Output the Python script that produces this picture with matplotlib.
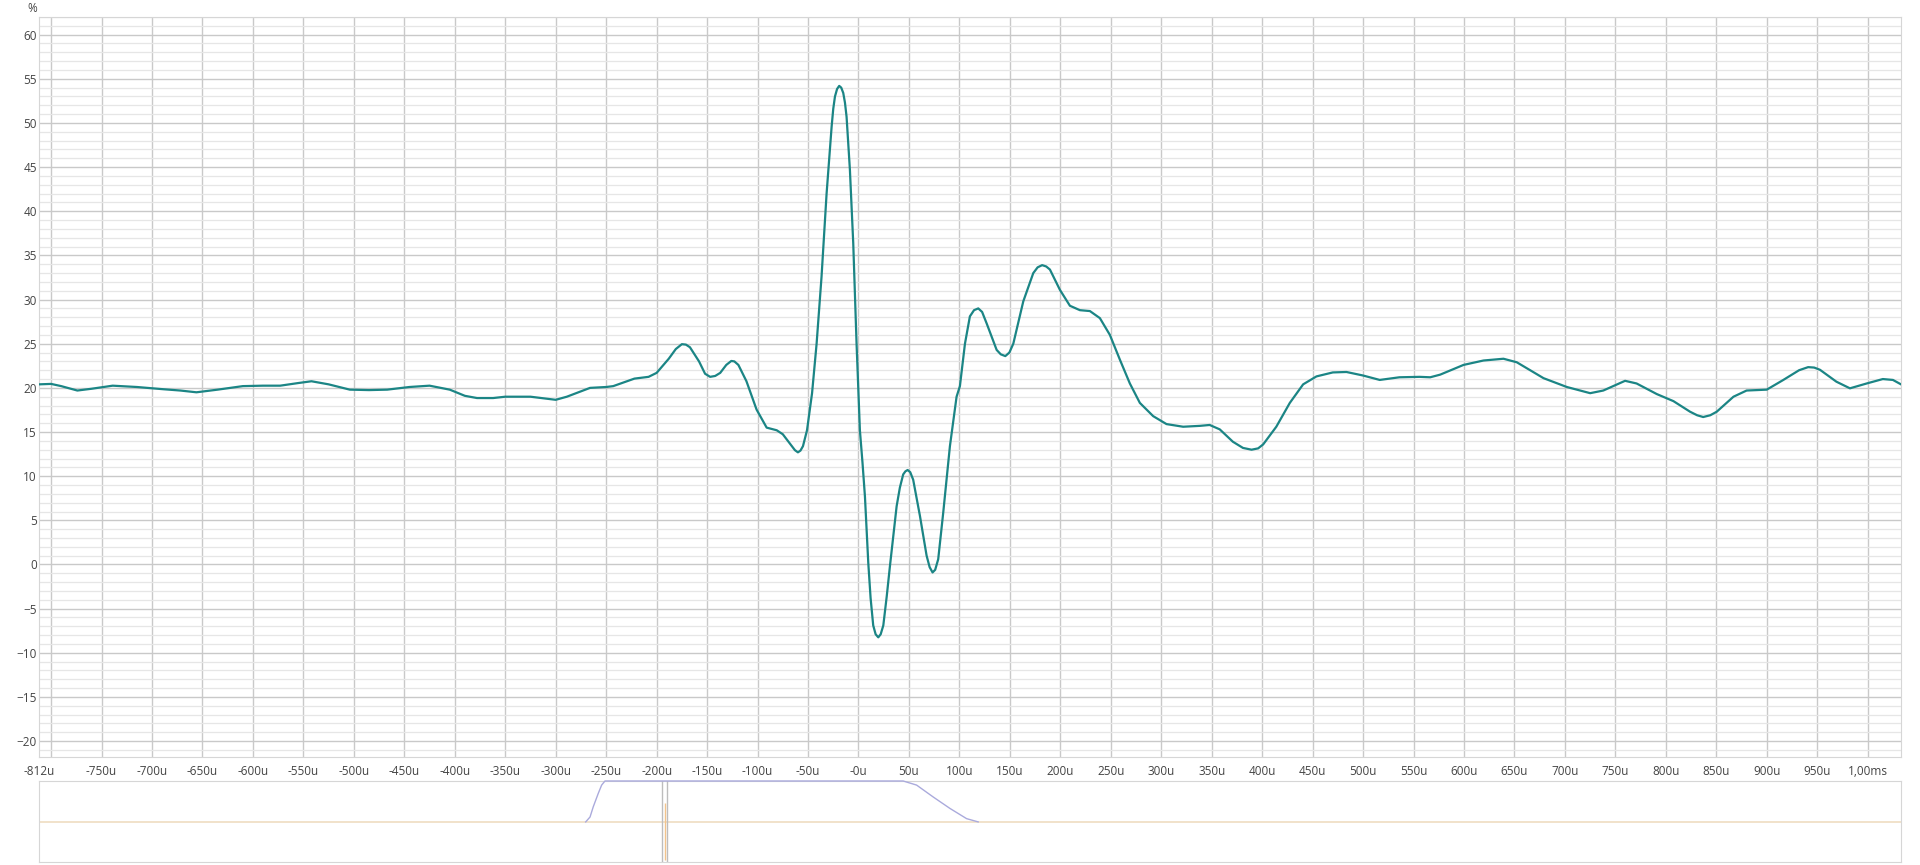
import matplotlib
matplotlib.use('Agg')
import matplotlib.pyplot as plt
from matplotlib.ticker import MultipleLocator
import matplotlib.transforms as mtransforms

# impulse response (time in microseconds, value in %)
t_us = [-812, -800, -790, -774, -760, -739, -715, -689, -672, -656, -635, -610,
        -590, -573, -555, -542, -525, -504, -485, -467, -445, -425, -405, -390,
        -378, -362, -350, -325, -300, -289, -266, -250, -243, -222, -208, -200,
        -188, -181, -175, -171, -167, -158, -152, -147, -142, -137, -131, -126,
        -123, -119, -111, -101, -91, -81, -75, -66, -63, -60, -57.5, -55,
        -51, -46, -41.5, -36.6, -31.6, -26.6, -25, -23.3, -21.2, -19.1, -17.1, -15.1,
        -13.4, -11.8, -8.5, -5.2, -1.9, 1.4, 4, 6.4, 9.7, 12, 14.6, 17,
        19.6, 22, 24.6, 28, 31.2, 37.8, 41, 44.3, 46.5, 48.7, 51.3, 54.2,
        60.9, 67.5, 70.5, 73.4, 76, 79, 84, 90.6, 97.2, 100.5, 105.5, 110.4,
        114.5, 118.7, 122.5, 127, 136.9, 141, 145.5, 149.5, 153.4, 163.3, 173.2, 177.5,
        182, 186, 189.7, 199.6, 209.5, 219.4, 229.3, 239.2, 249.1, 259, 268.9, 278.8,
        292, 305.2, 321.7, 338.3, 348, 358, 371, 381, 389.5, 396, 401, 414,
        427.4, 440.6, 453.8, 470, 483.5, 500, 516.5, 536, 556, 566.5, 576.4, 599.5,
        619.3, 639.1, 652.3, 678.8, 701.9, 725, 738, 759.6, 771, 791, 807.5, 824,
        831, 837, 844, 850.4, 867, 880, 900, 916.4, 932, 941, 947, 952.7,
        969, 982.4, 999, 1015, 1025, 1033]
pct = [20.4, 20.45, 20.2, 19.7, 19.9, 20.25, 20.1, 19.85, 19.7, 19.5, 19.8, 20.2,
       20.25, 20.25, 20.55, 20.75, 20.4, 19.8, 19.75, 19.8, 20.1, 20.25, 19.8, 19.1,
       18.85, 18.85, 19.0, 19.0, 18.65, 19.0, 20.0, 20.1, 20.2, 21.05, 21.25, 21.7,
       23.3, 24.4, 24.95, 24.9, 24.6, 23.0, 21.6, 21.25, 21.35, 21.7, 22.6, 23.05,
       23.0, 22.6, 20.75, 17.55, 15.5, 15.2, 14.75, 13.4, 12.95, 12.7, 12.9, 13.4,
       15.2, 19.4, 25.0, 32.6, 42.0, 49.6, 51.6, 53.0, 53.85, 54.2, 54.0, 53.4,
       52.3, 50.7, 44.7, 36.4, 25.0, 15.2, 11.5, 7.7, 0.2, -3.8, -6.9, -7.9,
       -8.25, -7.9, -6.9, -3.6, -0.15, 6.6, 8.7, 10.2, 10.55, 10.7, 10.45, 9.6,
       5.5, 1.0, -0.3, -0.9, -0.6, 0.6, 5.9, 13.4, 19.0, 20.2, 25.0, 28.1,
       28.8, 29.0, 28.6, 27.3, 24.3, 23.8, 23.6, 24.0, 25.0, 29.8, 33.0, 33.65,
       33.9, 33.75, 33.4, 31.1, 29.3, 28.8, 28.7, 27.9, 26.0, 23.2, 20.5, 18.3,
       16.8, 15.9, 15.6, 15.7, 15.8, 15.3, 13.9, 13.2, 13.0, 13.15, 13.6, 15.6,
       18.3, 20.4, 21.3, 21.75, 21.8, 21.4, 20.9, 21.2, 21.25, 21.2, 21.5, 22.6,
       23.1, 23.3, 22.9, 21.1, 20.1, 19.4, 19.7, 20.8, 20.5, 19.3, 18.5, 17.3,
       16.9, 16.7, 16.9, 17.3, 19.0, 19.7, 19.8, 20.9, 22.0, 22.35, 22.3, 22.05,
       20.7, 19.95, 20.5, 21.0, 20.9, 20.4]

# x grid / tick labels
x_grid = list(range(-800, 1001, 50))
x_labels = ['' if g == -800 else ('-0u' if g == 0 else ('1,00ms' if g == 1000 else f'{g}u'))
            for g in x_grid]
x_first, x_first_label = -812, '-812u'
y_ticks = list(range(-20, 61, 5))

# overview panel: window shape and marker
win_t = [-270.3, -266, -262.8, -257.8, -254.5, -251.2, 44.3, 57.6, 74, 90.6, 107.1, 118.6]
win_v = [0, 0.12, 0.37, 0.70, 0.90, 1.0, 1.0, 0.90, 0.61, 0.33, 0.08, 0]
cursor_t = [-194.7, -189.8]
spike_t = -191.7
spike_lo, spike_hi = -0.93, 0.46

font = ['Open Sans', 'DejaVu Sans']
plt.rcParams['font.family'] = font
lab_col = '#444444'

fig = plt.figure(figsize=(19.2, 8.65), dpi=100)
ax = fig.add_axes([39 / 1920, 1 - 757 / 865, (1901 - 39) / 1920, (757 - 17) / 865])

ax.plot(t_us, pct, color='#1b8585', lw=1.6, zorder=3, solid_joinstyle='round')

ax.set_xlim(-812, 1033)
ax.set_ylim(-21.8, 62.0)
ax.set_xticks(x_grid)
ax.set_xticklabels(x_labels)
ax.set_yticks(y_ticks)
ax.yaxis.set_minor_locator(MultipleLocator(1))
ax.grid(which='major', axis='both', color='#c9c9c9', lw=1.0)
ax.grid(which='minor', axis='y', color='#e6e6e6', lw=0.9)
ax.set_axisbelow(True)
ax.tick_params(which='both', length=0, labelsize=8.5, colors=lab_col)
ax.tick_params(axis='y', pad=1.5)
ax.tick_params(axis='x', pad=6)
for s in ax.spines.values():
    s.set_color('#d6d6d6')

trans = mtransforms.blended_transform_factory(ax.transData, ax.transAxes)
lbl = ax.text(x_first, 0, x_first_label, ha='center', va='top',
              fontsize=8.5, color=lab_col)
lbl.set_transform(trans + mtransforms.ScaledTranslation(0, -6 / 72, fig.dpi_scale_trans))
fig.text(32 / 1920, 1 - 8 / 865, '%', ha='center', va='center', fontsize=8.5, color=lab_col)

# overview panel
ax2 = fig.add_axes([39 / 1920, 1 - 862 / 865, (1901 - 39) / 1920, (862 - 781) / 865])
ax2.set_xlim(-812, 1033)
ax2.set_ylim(-0.98, 1.0)
ax2.axhline(0, color='#f0dfc6', lw=1.3, zorder=1)
ax2.plot(win_t, win_v, color='#aaaadc', lw=1.0, zorder=5, clip_on=False)
for c in cursor_t:
    ax2.axvline(c, color='#bdbdbd', lw=1.0, zorder=3)
ax2.vlines(spike_t, spike_lo, spike_hi, color='#f2c48c', lw=1.0, zorder=4)
ax2.set_xticks([])
ax2.set_yticks([])
for s in ax2.spines.values():
    s.set_color('#d6d6d6')

fig.savefig('out.png', dpi=100)
